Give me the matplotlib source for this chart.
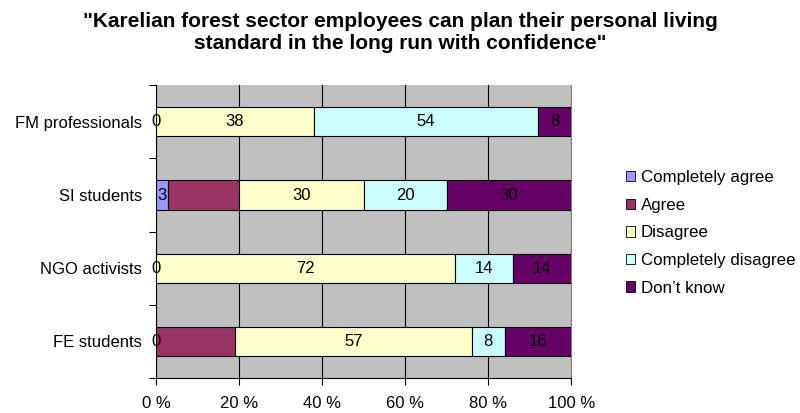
import matplotlib
matplotlib.use("Agg")
import matplotlib.pyplot as plt
from matplotlib.patches import Patch

plt.rcParams['font.family'] = ['Liberation Sans', 'DejaVu Sans']

groups = ["FM professionals", "SI students", "NGO activists", "FE students"]
series = ["Completely agree", "Agree", "Disagree", "Completely disagree", "Don\u2019t know"]
completely_agree = [0, 3, 0, 0]
agree = [0, 17, 0, 19]
disagree = [38, 30, 72, 57]
completely_disagree = [54, 20, 14, 8]
dont_know = [8, 30, 14, 16]
x_ticks = [0, 20, 40, 60, 80, 100]
x_tick_labels = ["0 %", "20 %", "40 %", "60 %", "80 %", "100 %"]

values = [completely_agree, agree, disagree, completely_disagree, dont_know]
colors = ["#9999FF", "#993366", "#FFFFCC", "#CCFFFF", "#660066"]
show_labels = [True, False, True, True, True]

fig = plt.figure(figsize=(8, 4.13), dpi=100)
ax = fig.add_axes([0.195, 0.0847, 0.519, 0.709])
ax.set_facecolor("#C0C0C0")

n = len(groups)
ypos = [n - 1 - i for i in range(n)]  # first group on top
left = [0.0] * n
for vals, col, lab, name in zip(values, colors, show_labels, series):
    bars = ax.barh(ypos, vals, left=left, height=0.4, color=col,
                   edgecolor="black", linewidth=0.8, zorder=3, label=name)
    if lab:
        for b, v, l in zip(bars, vals, left):
            ax.text(l + v / 2, b.get_y() + b.get_height() / 2, f"{v}",
                    ha="center", va="center", fontsize=12, color="black", zorder=4)
    left = [a + b for a, b in zip(left, vals)]

ax.set_xlim(0, 100)
ax.set_ylim(-0.5, n - 0.5)
ax.set_xticks(x_ticks)
ax.set_xticklabels(x_tick_labels, fontsize=12)
ax.xaxis.grid(True, color="black", linewidth=0.8, zorder=1)
ax.set_axisbelow(True)

# category boundaries carry the tick marks; names sit between them
ax.set_yticks([i - 0.5 for i in range(n + 1)])
ax.set_yticklabels([])
ax.set_yticks(ypos, minor=True)
ax.set_yticklabels(groups, minor=True, fontsize=12)
ax.tick_params(axis="y", which="minor", length=0, pad=10)
ax.tick_params(axis="y", which="major", length=5, width=0.8, direction="out")
ax.tick_params(axis="x", length=5, width=0.8, direction="out", pad=8)

ax.spines["top"].set_visible(False)
ax.spines["right"].set_color("#808080")
ax.spines["left"].set_linewidth(0.8)
ax.spines["bottom"].set_linewidth(0.8)

fig.text(0.5, 0.921, "\"Karelian forest sector employees can plan their personal living\nstandard in the long run with confidence\"",
         ha="center", va="center", fontsize=15, fontweight="bold", linespacing=1.22)

handles = [Patch(facecolor=c, edgecolor="black", linewidth=0.6) for c in colors]
fig.legend(handles, series, loc="center left", bbox_to_anchor=(0.782, 0.436),
           frameon=False, fontsize=12.2, handlelength=0.55, handleheight=0.55,
           handletextpad=0.35, labelspacing=0.74, borderpad=0, borderaxespad=0)

fig.savefig("out.png", dpi=100)
